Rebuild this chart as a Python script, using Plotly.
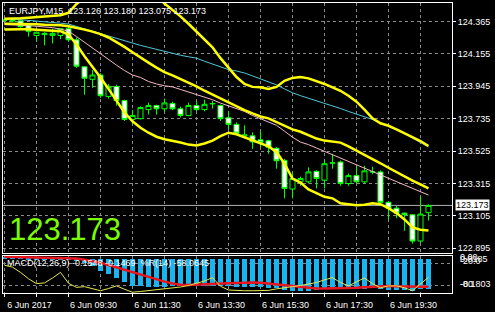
import plotly.graph_objects as go
import pandas as pd

# ---------------- data ----------------
times = pd.date_range("2017-06-06 07:30", periods=54, freq="15min")

opens = [124.372, 124.376, 124.369, 124.338, 124.274, 124.280, 124.274, 124.274, 124.318, 124.246,
         124.071, 123.990, 124.018, 123.879, 123.943, 123.852, 123.730, 123.735, 123.794, 123.820,
         123.799, 123.833, 123.799, 123.756, 123.820, 123.794, 123.831, 123.820, 123.741, 123.698,
         123.622, 123.624, 123.598, 123.592, 123.543, 123.464, 123.279, 123.326, 123.326, 123.394,
         123.336, 123.447, 123.454, 123.315, 123.366, 123.326, 123.390, 123.390, 123.193, 123.155,
         123.123, 123.112, 122.942, 123.126]
highs = [124.385, 124.385, 124.375, 124.345, 124.300, 124.295, 124.318, 124.320, 124.325, 124.261,
         124.075, 124.050, 124.030, 123.960, 123.955, 123.858, 123.790, 123.815, 123.839, 123.825,
         123.865, 123.845, 123.813, 123.839, 123.847, 123.858, 123.850, 123.826, 123.783, 123.711,
         123.692, 123.647, 123.656, 123.598, 123.551, 123.475, 123.392, 123.360, 123.420, 123.400,
         123.464, 123.507, 123.464, 123.380, 123.424, 123.430, 123.424, 123.400, 123.200, 123.170,
         123.125, 123.117, 123.230, 123.180]
lows = [124.360, 124.362, 124.325, 124.267, 124.237, 124.210, 124.222, 124.250, 124.240, 124.063,
        123.890, 123.935, 123.870, 123.865, 123.820, 123.720, 123.700, 123.730, 123.762, 123.762,
        123.780, 123.790, 123.743, 123.751, 123.783, 123.783, 123.800, 123.720, 123.666, 123.628,
        123.615, 123.539, 123.551, 123.507, 123.411, 123.219, 123.219, 123.300, 123.315, 123.283,
        123.283, 123.411, 123.300, 123.300, 123.315, 123.315, 123.375, 123.185, 123.080, 123.090,
        123.008, 122.925, 122.930, 123.075]
closes = [124.375, 124.369, 124.331, 124.301, 124.295, 124.288, 124.288, 124.318, 124.246, 124.075,
          123.997, 124.018, 123.884, 123.943, 123.852, 123.730, 123.756, 123.807, 123.820, 123.799,
          123.837, 123.799, 123.756, 123.820, 123.794, 123.828, 123.833, 123.735, 123.698, 123.641,
          123.630, 123.585, 123.581, 123.550, 123.462, 123.283, 123.347, 123.347, 123.390, 123.347,
          123.443, 123.448, 123.315, 123.366, 123.326, 123.397, 123.391, 123.193, 123.155, 123.123,
          123.112, 122.942, 123.117, 123.173]

bb_upper = [124.382, 124.382, 124.385, 124.389, 124.392, 124.395, 124.398, 124.405, 124.421, 124.478,
            124.520, 124.560, 124.590, 124.610, 124.620, 124.620, 124.610, 124.590, 124.560, 124.530,
            124.481, 124.440, 124.398, 124.350, 124.299, 124.254, 124.197, 124.127, 124.063, 124.005,
            123.960, 123.941, 123.938, 123.928, 123.941, 123.980, 123.999, 124.005, 123.996, 123.980,
            123.960, 123.938, 123.916, 123.884, 123.845, 123.794, 123.737, 123.705, 123.689, 123.666,
            123.641, 123.615, 123.590, 123.558]
bb_middle = [124.350, 124.350, 124.350, 124.350, 124.347, 124.344, 124.344, 124.341, 124.334, 124.325,
             124.312, 124.299, 124.283, 124.261, 124.232, 124.200, 124.165, 124.130, 124.098, 124.066,
             124.037, 124.015, 123.992, 123.970, 123.944, 123.916, 123.890, 123.868, 123.842, 123.817,
             123.791, 123.769, 123.749, 123.737, 123.714, 123.692, 123.666, 123.650, 123.628, 123.606,
             123.593, 123.587, 123.580, 123.555, 123.529, 123.503, 123.475, 123.446, 123.417, 123.388,
             123.363, 123.334, 123.309, 123.283]
bb_lower = [124.312, 124.315, 124.315, 124.315, 124.312, 124.312, 124.309, 124.302, 124.280, 124.216,
            124.139, 124.072, 124.002, 123.928, 123.852, 123.775, 123.718, 123.676, 123.644, 123.618,
            123.602, 123.593, 123.580, 123.567, 123.561, 123.574, 123.593, 123.622, 123.644, 123.634,
            123.615, 123.593, 123.577, 123.555, 123.519, 123.443, 123.347, 123.321, 123.277, 123.251,
            123.229, 123.219, 123.187, 123.181, 123.174, 123.178, 123.187, 123.181, 123.155, 123.123,
            123.082, 123.031, 123.015, 123.010]
ma_slow = [124.385, 124.381, 124.376, 124.371, 124.368, 124.363, 124.359, 124.354, 124.348, 124.334,
           124.318, 124.302, 124.286, 124.270, 124.254, 124.238, 124.222, 124.210, 124.197, 124.184,
           124.168, 124.155, 124.146, 124.136, 124.127, 124.107, 124.088, 124.069, 124.053, 124.044,
           124.031, 124.012, 123.992, 123.973, 123.954, 123.928, 123.903, 123.884, 123.868, 123.852,
           123.836, 123.817, 123.801, 123.782, 123.766, 123.750, 123.730, 123.708, 123.686, 123.663,
           123.641, 123.609, 123.580, 123.551]
ma_fast = [124.344, 124.344, 124.341, 124.338, 124.334, 124.331, 124.325, 124.315, 124.302, 124.267,
           124.229, 124.194, 124.155, 124.117, 124.082, 124.047, 124.018, 124.002, 123.976, 123.960,
           123.948, 123.941, 123.925, 123.909, 123.893, 123.877, 123.858, 123.836, 123.817, 123.801,
           123.782, 123.756, 123.734, 123.714, 123.692, 123.654, 123.615, 123.583, 123.567, 123.545,
           123.523, 123.504, 123.481, 123.462, 123.440, 123.417, 123.395, 123.372, 123.350, 123.328,
           123.306, 123.283, 123.260, 123.240]

macd_main = [0.012, 0.012, 0.011, 0.010, 0.009, 0.008, 0.007, 0.006, 0.003, -0.010,
             -0.020, -0.037, -0.060, -0.078, -0.100, -0.122, -0.138, -0.142, -0.145, -0.147,
             -0.145, -0.143, -0.142, -0.143, -0.142, -0.140, -0.139, -0.140, -0.142, -0.144,
             -0.146, -0.147, -0.148, -0.150, -0.152, -0.162, -0.168, -0.168, -0.165, -0.163,
             -0.158, -0.156, -0.158, -0.157, -0.156, -0.154, -0.152, -0.156, -0.160, -0.160,
             -0.160, -0.165, -0.158, -0.1548]
macd_signal = [0.0117, 0.0110, 0.0100, 0.0095, 0.0090, 0.0085, 0.0080, 0.0070, 0.0060, 0.0030,
               -0.004, -0.011, -0.020, -0.032, -0.045, -0.058, -0.071, -0.084, -0.097, -0.109,
               -0.120, -0.130, -0.137, -0.138, -0.137, -0.135, -0.133, -0.131, -0.129, -0.127,
               -0.125, -0.124, -0.126, -0.130, -0.135, -0.140, -0.145, -0.150, -0.154, -0.156,
               -0.157, -0.157, -0.156, -0.156, -0.153, -0.150, -0.147, -0.144, -0.143, -0.145,
               -0.147, -0.148, -0.147, -0.1469]
williams_r = [-26, -31, -45, -62, -75, -73, -60, -45, -74, -85,
              -83, -88, -94, -88, -81, -90, -98, -96, -94, -92,
              -90, -87, -84, -80, -74, -68, -59, -82, -92, -94,
              -94, -94, -94, -93, -89, -85, -83, -80, -76, -72,
              -65, -59, -72, -81, -70, -60, -75, -86, -81, -81,
              -86, -94, -76, -58.0645]

price_ticks = [124.365, 124.155, 123.945, 123.735, 123.525, 123.315, 123.105, 122.895]
time_labels = ["6 Jun 2017", "6 Jun 09:30", "6 Jun 11:30", "6 Jun 13:30",
               "6 Jun 15:30", "6 Jun 17:30", "6 Jun 19:30"]
last_price = 123.173
title_text = "EURJPY,M15  123.126 123.180 123.075 123.173"
macd_text = "MACD(12,26,9) -0.1548 -0.1469  %R(14) -58.0645"

# ---------------- figure ----------------
FONT = "Liberation Sans, Arial, sans-serif"
GRID = "#8a8a8a"
step = pd.Timedelta(minutes=15)
x_left = times[0] - step * 0.1875
x_right = times[0] + step * 55.94

hour_ticks = [times[i] for i in range(0, len(times), 4)]
hour_text = []
for j, t in enumerate(hour_ticks):
    hour_text.append(time_labels[j // 2] if j % 2 == 0 and j // 2 < len(time_labels) else "")

fig = go.Figure()

fig.add_trace(go.Candlestick(
    x=times, open=opens, high=highs, low=lows, close=closes,
    xaxis="x", yaxis="y", whiskerwidth=0,
    increasing=dict(line=dict(color="#00FF00", width=1), fillcolor="#000000"),
    decreasing=dict(line=dict(color="#00FF00", width=1), fillcolor="#FFFFFF"),
    showlegend=False, hoverinfo="skip"))

for series, color, width in [(ma_slow, "#4FC8D8", 1), (ma_fast, "#F4B8C4", 1),
                             (bb_middle, "#FFFF00", 2.5), (bb_upper, "#FFFF00", 2.5),
                             (bb_lower, "#FFFF00", 2.5)]:
    fig.add_trace(go.Scatter(x=times, y=series, mode="lines", xaxis="x", yaxis="y",
                             line=dict(color=color, width=width), showlegend=False,
                             hoverinfo="skip"))

fig.add_trace(go.Bar(x=times, y=macd_main, xaxis="x2", yaxis="y2",
                     marker=dict(color="#1AB4F0", line=dict(width=0)),
                     width=step.total_seconds() * 1000 * 5 / 8,
                     showlegend=False, hoverinfo="skip"))
fig.add_trace(go.Scatter(x=times, y=macd_signal, mode="lines", xaxis="x2", yaxis="y2",
                         line=dict(color="#E8141E", width=2.5), showlegend=False,
                         hoverinfo="skip"))
fig.add_trace(go.Scatter(x=times, y=williams_r, mode="lines", xaxis="x2", yaxis="y3",
                         line=dict(color="#E6E650", width=1), showlegend=False,
                         hoverinfo="skip"))

axis_common = dict(showline=True, mirror=True, linecolor="#FFFFFF", linewidth=1,
                   zeroline=False)

fig.update_layout(
    width=495, height=312,
    margin=dict(l=3, r=43, t=2, b=16),
    paper_bgcolor="#000000", plot_bgcolor="#000000",
    boxgap=0.1, boxgroupgap=0.3, bargap=0,
    font=dict(family=FONT, size=9, color="#FFFFFF"),
    xaxis=dict(domain=[0, 1], anchor="y", type="date", range=[x_left, x_right],
               rangeslider=dict(visible=False), showticklabels=False,
               tickvals=hour_ticks, showgrid=True, gridcolor=GRID, griddash="3px,3px",
               gridwidth=1, matches="x2", **axis_common),
    xaxis2=dict(domain=[0, 1], anchor="y2", type="date", range=[x_left, x_right],
                tickvals=hour_ticks, ticktext=hour_text, ticks="outside", ticklen=3,
                tickcolor="#FFFFFF", ticklabelshift=25,
                tickfont=dict(family=FONT, size=9, color="#FFFFFF"),
                showgrid=True, gridcolor=GRID, griddash="3px,3px", gridwidth=1,
                **axis_common),
    yaxis=dict(domain=[41 / 294, 1], anchor="x", side="right",
               range=[122.8675, 124.4845], tickvals=price_ticks,
               ticktext=[f"{v:.3f}" for v in price_ticks], ticks="outside", ticklen=3,
               tickcolor="#FFFFFF", tickfont=dict(family=FONT, size=9, color="#FFFFFF"),
               showgrid=True, gridcolor=GRID, griddash="3px,3px", gridwidth=1,
               **axis_common),
    yaxis2=dict(domain=[0, 38 / 294], anchor="x2", side="right",
                range=[-0.1803, 0.0185], showticklabels=False, showgrid=False,
                **axis_common),
    yaxis3=dict(overlaying="y2", anchor="x2", side="right", range=[-100, 0],
                tickvals=[-20, -80], showticklabels=False, showgrid=True,
                gridcolor=GRID, griddash="3px,3px", gridwidth=1, zeroline=False,
                showline=False),
)

fig.add_shape(type="line", xref="x domain", yref="y", x0=0, x1=1,
              y0=last_price, y1=last_price, line=dict(color="#B0B0B0", width=1),
              layer="below")

ann = []
ann.append(dict(text=title_text, xref="paper", yref="paper", x=4 / 449, y=(296 - 10) / 294,
                xanchor="left", yanchor="middle", showarrow=False,
                font=dict(family=FONT, size=9, color="#FFFFFF")))
ann.append(dict(text=f"{last_price:.3f}", xref="paper", yref="paper", x=4 / 449,
                y=(296 - 231.5) / 294, xanchor="left", yanchor="middle", showarrow=False,
                font=dict(family=FONT, size=31, color="#7CFC00")))
ann.append(dict(text=macd_text, xref="paper", yref="paper", x=2 / 449, y=(296 - 266) / 294,
                xanchor="left", yanchor="middle", showarrow=False,
                font=dict(family=FONT, size=9, color="#FFFFFF")))
ann.append(dict(text=f"{last_price:.3f}", xref="paper", yref="y", x=1 + 3 / 449, y=last_price,
                xanchor="left", yanchor="middle", showarrow=False, bgcolor="#FFFFFF",
                borderpad=0, font=dict(family=FONT, size=9, color="#000000")))
for txt, ypix in [("0.0185", 261.3), ("0.00", 259.5), ("-20.0", 263.5), ("-0.1803", 287.3), ("-80", 287.3)]:
    ann.append(dict(text=txt, xref="paper", yref="paper", x=1 + 6 / 449, y=(296 - ypix) / 294,
                    xanchor="left", yanchor="middle", showarrow=False,
                    font=dict(family=FONT, size=9, color="#FFFFFF")))
fig.update_layout(annotations=ann)

fig.write_html("out.html")
